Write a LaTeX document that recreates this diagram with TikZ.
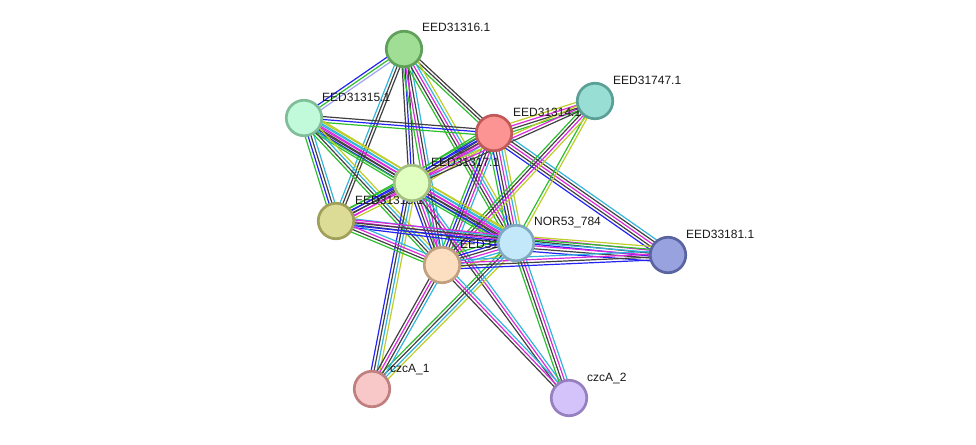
\documentclass[tikz,border=0pt]{standalone}
\usepackage{fontspec}
\setmainfont{Liberation Sans}
\usetikzlibrary{calc}

% evidence channel colours
\definecolor{cgreen}{RGB}{45,190,45}
\definecolor{cblue}{RGB}{35,35,245}
\definecolor{cblack}{RGB}{64,64,64}
\definecolor{cmag}{RGB}{220,40,220}
\definecolor{ccyan}{RGB}{50,180,220}
\definecolor{cyel}{RGB}{190,205,40}
\definecolor{clav}{RGB}{160,160,245}

\tikzset{
  edge/.style={line width=1.2pt},
  protein/.style={circle, minimum size=35.5pt, inner sep=0pt, line width=2.7pt},
  plabel/.style={anchor=base west, font=\fontsize{12pt}{12pt}\selectfont, inner sep=0pt, text=black!90},
}

% one bundle of parallel evidence lines between two proteins
\newcommand{\link}[3]{%
  \foreach \c [count=\i] in {#3} {\xdef\linkn{\i}}%
  \foreach \c [count=\i] in {#3} {%
    \pgfmathsetmacro{\off}{(\i-(\linkn+1)/2)*2.9}%
    \draw[edge, draw=\c] ($(#1)!\off pt!90:(#2)$) -- ($(#2)!\off pt!-90:(#1)$);%
  }%
}

\begin{document}
\begin{tikzpicture}[x=1pt, y=-1pt]
\useasboundingbox (0,0) rectangle (976,444);

% protein positions
\coordinate (A) at (404,49);   % EED31316.1
\coordinate (B) at (304,118);  % EED31315.1
\coordinate (C) at (494,133);  % EED31314.1
\coordinate (D) at (595,101);  % EED31747.1
\coordinate (E) at (412,183);  % EED31317.1
\coordinate (F) at (336,221);  % EED31318.1
\coordinate (G) at (516,243);  % NOR53_784
\coordinate (H) at (668,255);  % EED33181.1
\coordinate (I) at (442,265);  % EED31313.1
\coordinate (J) at (372,389);  % czcA_1
\coordinate (K) at (569,398);  % czcA_2

% interaction bundles
\link{A}{B}{cblue,cgreen,clav}
\link{A}{C}{cgreen,cblack,cblack}
\link{A}{E}{cblack,cblue,cblack}
\link{A}{F}{ccyan,cblack,cblack}
\link{A}{I}{cgreen,cmag,cblack,ccyan}
\link{A}{G}{cgreen,cblack,cmag,ccyan,cyel}
\link{B}{C}{cgreen,cblue,cblack}
\link{B}{E}{cgreen,cblue,cblack,cmag,ccyan,cyel}
\link{B}{F}{cgreen,cblue,cblack,ccyan}
\link{B}{G}{cgreen,cblack,cmag,ccyan,cyel}
\link{B}{I}{cgreen,cblack,ccyan,cyel}
\link{C}{D}{cgreen,cblack,cmag,cyel}
\link{C}{E}{cgreen,cblue,cblack,cmag,ccyan,cyel}
\link{C}{F}{cgreen,cblue,cblack,cmag}
\link{C}{G}{cgreen,cblue,cblack,cmag,ccyan,cyel}
\link{C}{H}{cblue,cblack,cmag,cblack,ccyan}
\link{C}{I}{cgreen,cblue,cblack,cmag,ccyan}
\link{D}{E}{cyel,cmag,cblack}
\link{D}{G}{cgreen,cyel}
\link{D}{I}{cgreen,cblack,cmag,cyel}
\link{E}{F}{cgreen,cblue,cblack,cmag,cyel}
\link{E}{G}{cgreen,cblue,cblack,cmag,ccyan,cyel}
\link{E}{I}{cblue,cblack,cmag,ccyan}
\link{E}{J}{cblue,cblack,ccyan,cyel}
\link{E}{K}{cblack,cmag,ccyan}
\link{F}{G}{cblue,cblack,cmag,ccyan}
\link{F}{I}{cgreen,cblack,cmag,ccyan}
\link{F}{H}{cblue,cblack,cmag}
\link{G}{H}{cblue,cblack,cmag,ccyan,cgreen,cyel}
\link{G}{I}{cgreen,cblue,cblack,cmag,ccyan,cyel}
\link{G}{J}{cgreen,cblack,ccyan,cyel}
\link{G}{K}{cgreen,cblack,cmag,ccyan}
\link{I}{H}{cblue,cblack,cmag,ccyan}
\link{I}{J}{cblack,cmag,cblack,ccyan}
\link{I}{K}{cblack,cmag,ccyan}

% labels
\node[plabel] (lA) at ($(A)+(18,-17)$) {EED31316.1};
\node[plabel] (lB) at ($(B)+(18,-17)$) {EED31315.1};
\node[plabel] (lC) at ($(C)+(19,-17)$) {EED31314.1};
\node[plabel] (lD) at ($(D)+(18,-17)$) {EED31747.1};
\node[plabel] (lE) at ($(E)+(19,-17)$) {EED31317.1};
\node[plabel] (lF) at ($(F)+(19,-17)$) {EED31318.1};
\node[plabel] (lG) at ($(G)+(18,-18)$) {NOR53\_784};
\node[plabel] (lH) at ($(H)+(18,-17)$) {EED33181.1};
\node[plabel] (lI) at ($(I)+(18,-17)$) {EED31313.1};
\node[plabel] (lJ) at ($(J)+(18,-17)$) {czcA\_1};
\node[plabel] (lK) at ($(K)+(18,-17)$) {czcA\_2};

% proteins
\node[protein, fill={rgb,255:red,160;green,222;blue,150}, draw={rgb,255:red,96;green,160;blue,90}] (nA) at (A) {};
\node[protein, fill={rgb,255:red,192;green,250;blue,218}, draw={rgb,255:red,128;green,190;blue,154}] (nB) at (B) {};
\node[protein, fill={rgb,255:red,252;green,148;blue,148}, draw={rgb,255:red,192;green,90;blue,90}] (nC) at (C) {};
\node[protein, fill={rgb,255:red,152;green,222;blue,212}, draw={rgb,255:red,90;green,160;blue,150}] (nD) at (D) {};
\node[protein, fill={rgb,255:red,224;green,255;blue,192}, draw={rgb,255:red,164;green,192;blue,128}] (nE) at (E) {};
\node[protein, fill={rgb,255:red,220;green,220;blue,150}, draw={rgb,255:red,160;green,160;blue,90}] (nF) at (F) {};
\node[protein, fill={rgb,255:red,194;green,232;blue,250}, draw={rgb,255:red,128;green,168;blue,192}] (nG) at (G) {};
\node[protein, fill={rgb,255:red,152;green,162;blue,222}, draw={rgb,255:red,90;green,100;blue,160}] (nH) at (H) {};
\node[protein, fill={rgb,255:red,252;green,222;blue,192}, draw={rgb,255:red,192;green,160;blue,128}] (nI) at (I) {};
\node[protein, fill={rgb,255:red,248;green,200;blue,200}, draw={rgb,255:red,192;green,128;blue,128}] (nJ) at (J) {};
\node[protein, fill={rgb,255:red,212;green,194;blue,250}, draw={rgb,255:red,150;green,128;blue,192}] (nK) at (K) {};
\end{tikzpicture}
\end{document}
